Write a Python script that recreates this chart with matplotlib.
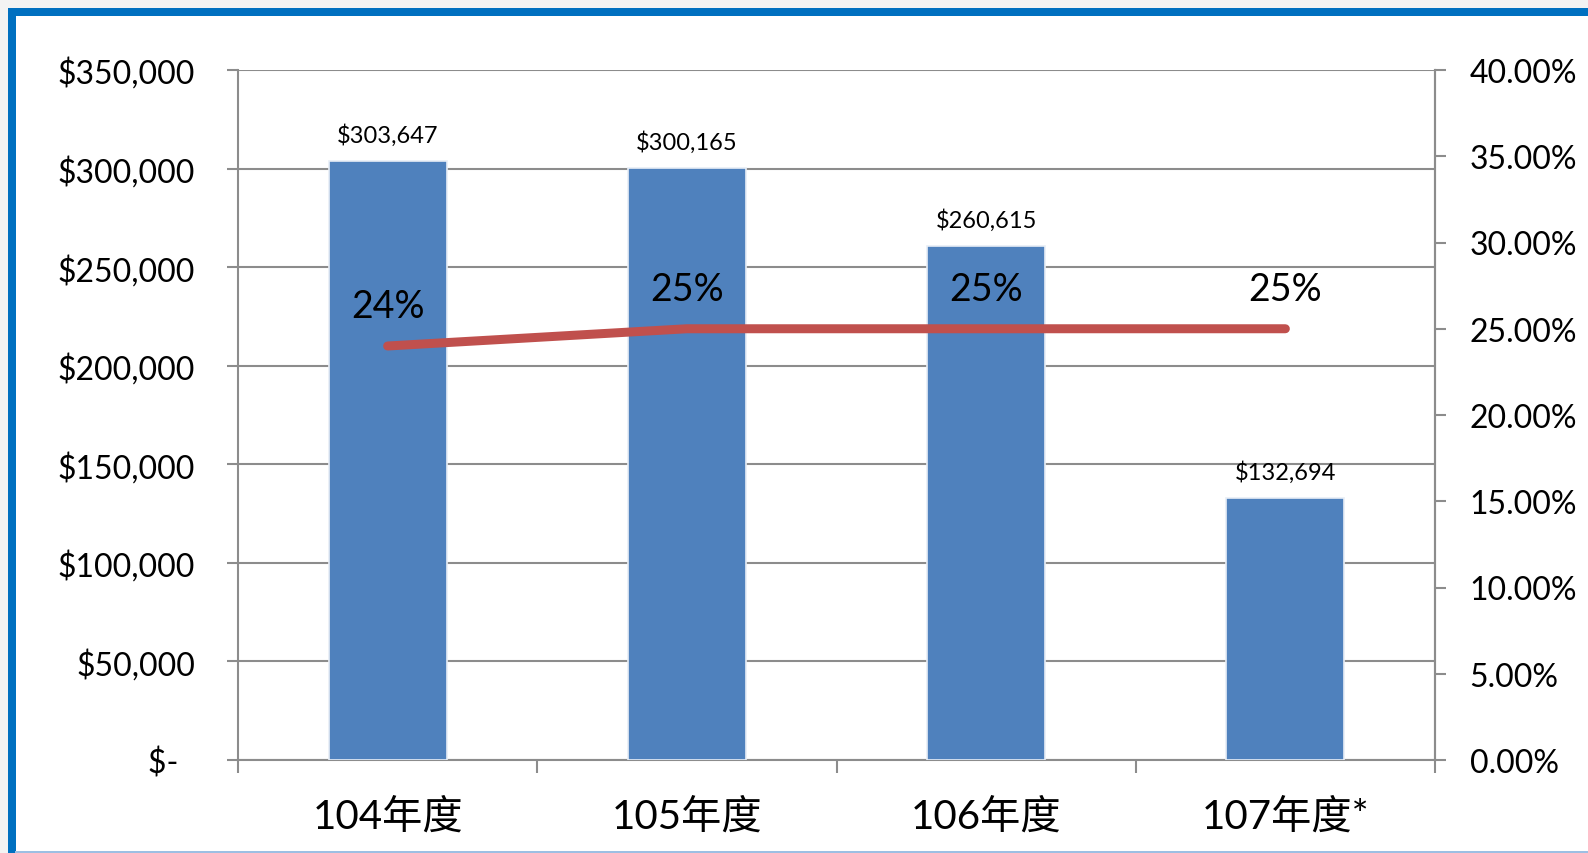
import matplotlib
matplotlib.use("Agg")
import matplotlib.pyplot as plt
from matplotlib.patches import Rectangle
from matplotlib.lines import Line2D
from matplotlib.ticker import FuncFormatter, MultipleLocator

categories = ["104年度", "105年度", "106年度", "107年度*"]
amounts = [303647, 300165, 260615, 132694]
ratios = [0.24, 0.25, 0.25, 0.25]
ratio_labels = ["24%", "25%", "25%", "25%"]

FONT = ["Lato", "Noto Sans CJK TC", "DejaVu Sans"]
plt.rcParams["font.family"] = FONT

W, H = 1588, 854
fig = plt.figure(figsize=(W / 100, H / 100), dpi=100)
fig.patch.set_facecolor("white")

# grey margin outside the frame
fig.patches.append(Rectangle((0, 1 - 10 / H), 1, 10 / H, transform=fig.transFigure,
                             facecolor="#f3f3f3", edgecolor="none", zorder=-5))
fig.patches.append(Rectangle((0, 0), 9 / W, 1, transform=fig.transFigure,
                             facecolor="#f3f3f3", edgecolor="none", zorder=-5))
fig.lines.append(Line2D([12 / W, 12 / W], [0, 1 - 9 / H], transform=fig.transFigure,
                        color="#0070C0", lw=8 * 0.72, solid_capstyle="butt", zorder=10))
fig.lines.append(Line2D([8 / W, 1.0], [1 - 13 / H, 1 - 13 / H], transform=fig.transFigure,
                        color="#0070C0", lw=8 * 0.72, solid_capstyle="butt", zorder=10))
fig.lines.append(Line2D([16 / W, 1.0], [1.5 / H, 1.5 / H], transform=fig.transFigure,
                        color="#9dbfe3", lw=2 * 0.72, zorder=10))

ax = fig.add_axes([238 / W, 93 / H, (1435 - 238) / W, 690 / H])
ax.set_facecolor("none")
x = list(range(len(categories)))

grid_c = "#8c8c8c"
ax.bar(x, amounts, width=0.395, color="#4F81BD", edgecolor="#e8eef6", linewidth=1.2, zorder=3)
ax.set_ylim(0, 350000)
ax.set_xlim(-0.5, len(categories) - 0.5)
ax.yaxis.set_major_locator(MultipleLocator(50000))
ax.grid(axis="y", color=grid_c, lw=1.5, zorder=0)
ax.set_axisbelow(True)

def money(v, pos):
    if v == 0:
        return "$-  "
    return "${:,.0f}".format(v)
ax.yaxis.set_major_formatter(FuncFormatter(money))

ax.spines["top"].set_visible(False)
for s in ["left", "bottom", "right"]:
    ax.spines[s].set_color(grid_c)
    ax.spines[s].set_linewidth(1.5)

ax.set_xticks([i + 0.5 for i in range(-1, len(categories))])
ax.set_xticklabels([])
ax.set_xticks(x, minor=True)
ax.set_xticklabels(categories, minor=True, fontsize=29, color="black")
ax.tick_params(axis="x", which="major", length=9, width=1.5, color=grid_c, direction="out")
ax.tick_params(axis="x", which="minor", length=0, pad=27)
ax.tick_params(axis="y", length=8, width=1.5, color=grid_c, labelsize=23, pad=23)

for xi, v in zip(x, amounts):
    ax.annotate("${:,.0f}".format(v), (xi, v), xytext=(0, 27), textcoords="offset pixels",
                ha="center", va="center", fontsize=17, color="black")

ax2 = ax.twinx()
ax2.set_ylim(0, 0.40)
ax2.yaxis.set_major_locator(MultipleLocator(0.05))
ax2.yaxis.set_major_formatter(FuncFormatter(lambda v, p: "{:.2f}%".format(v * 100)))
ax2.tick_params(axis="y", length=8, width=1.5, color=grid_c, labelsize=23, pad=17)
for s in ["top", "left", "bottom"]:
    ax2.spines[s].set_visible(False)
ax2.spines["right"].set_color(grid_c)
ax2.spines["right"].set_linewidth(1.5)
ax2.plot(x, ratios, color="#C0504D", lw=9 * 0.72, solid_capstyle="round",
         solid_joinstyle="round", zorder=4)
for xi, r, lab in zip(x, ratios, ratio_labels):
    ax2.annotate(lab, (xi, r), xytext=(0, 40), textcoords="offset pixels",
                 ha="center", va="center", fontsize=27, color="black")

fig.savefig("out.png", dpi=100, facecolor=fig.get_facecolor())
